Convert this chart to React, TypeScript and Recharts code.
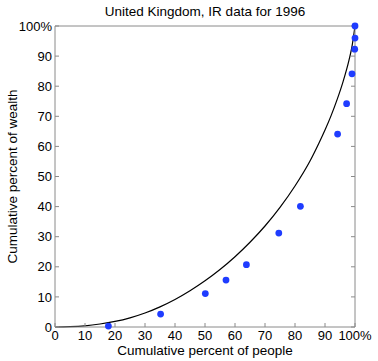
import { ComposedChart, Line, Scatter, XAxis, YAxis } from 'recharts';

// ============================================
// Data
// ============================================

// observed cumulative shares (percent of people, percent of wealth)
const peopleShare = [17.8, 35.2, 50.1, 57, 63.8, 74.6, 81.8, 94.2, 97.2, 99, 99.9, 100, 100];
const wealthShare = [0.3, 4.3, 11.1, 15.6, 20.7, 31.2, 40.1, 64.1, 74.2, 84.1, 92.3, 96, 100];

// fitted Lorenz curve
const curveX = [0, 5, 10, 15, 20, 25, 30, 35, 40, 45, 50, 55, 60, 65, 70, 75, 80, 85, 88, 90, 92, 94, 96, 98, 99, 100];
const curveY = [
  0, 0.1, 0.4, 1.0, 1.85, 3.05, 4.65, 6.7, 9.15, 12.05, 15.35, 19.1, 23.35, 28.15, 33.55, 39.75, 46.85, 55.15,
  61.15, 65.45, 70.15, 75.45, 81.45, 88.65, 93.25, 100,
];

const TICKS = [0, 10, 20, 30, 40, 50, 60, 70, 80, 90, 100];

const points = peopleShare.map((x, i) => ({ x, y: wealthShare[i] }));
const curve = curveX.map((x, i) => ({ x, y: curveY[i] }));

const AXIS_GRAY = '#8a8a8a';
const DOT_BLUE = '#1f3cff';
const FONT = '"Liberation Sans", Arial, Helvetica, sans-serif';

const pct = (v: number) => (v === 100 ? '100%' : String(v));
const blank = () => '';

const Dot = (props: any) => <circle cx={props.cx} cy={props.cy} r={3.4} fill={DOT_BLUE} />;

// ============================================
// Component
// ============================================

export default function App() {
  return (
    <div
      style={{
        position: 'absolute',
        left: 0,
        top: 0,
        width: 378,
        height: 361,
        background: '#fff',
        fontFamily: FONT,
      }}
    >
      <div
        style={{
          position: 'absolute',
          left: 55,
          top: 4,
          width: 300,
          textAlign: 'center',
          fontSize: 13.5,
          lineHeight: '15px',
          color: '#000',
        }}
      >
        United Kingdom, IR data for 1996
      </div>
      <ComposedChart width={378} height={361} margin={{ top: 0, right: 0, bottom: 0, left: 0 }}>
        <XAxis
          dataKey="x"
          type="number"
          domain={[0, 100]}
          ticks={TICKS}
          tickFormatter={pct}
          height={34}
          tickSize={-4}
          tickMargin={8}
          interval={0}
          axisLine={{ stroke: AXIS_GRAY }}
          tickLine={{ stroke: AXIS_GRAY }}
          tick={{ fill: '#000', fontSize: 13 }}
          label={{
            value: 'Cumulative percent of people',
            position: 'insideBottom',
            offset: 6,
            style: { fill: '#000', fontSize: 13.5 },
          }}
        />
        <XAxis
          xAxisId="top"
          orientation="top"
          type="number"
          domain={[0, 100]}
          allowDataOverflow
          ticks={TICKS}
          tickFormatter={blank}
          height={26}
          tickSize={-4}
          interval={0}
          axisLine={{ stroke: AXIS_GRAY }}
          tickLine={{ stroke: AXIS_GRAY }}
        />
        <YAxis
          type="number"
          domain={[0, 100]}
          ticks={TICKS}
          tickFormatter={pct}
          width={55}
          tickSize={-4}
          tickMargin={7}
          interval={0}
          axisLine={{ stroke: AXIS_GRAY }}
          tickLine={{ stroke: AXIS_GRAY }}
          tick={{ fill: '#000', fontSize: 13 }}
          label={{
            value: 'Cumulative percent of wealth',
            angle: -90,
            position: 'insideLeft',
            offset: 12,
            style: { fill: '#000', fontSize: 13.5, textAnchor: 'middle' },
          }}
        />
        <YAxis
          yAxisId="right"
          orientation="right"
          type="number"
          domain={[0, 100]}
          allowDataOverflow
          ticks={TICKS}
          tickFormatter={blank}
          width={23}
          tickSize={-4}
          interval={0}
          axisLine={{ stroke: AXIS_GRAY }}
          tickLine={{ stroke: AXIS_GRAY }}
        />
        <Line
          data={curve}
          dataKey="y"
          type="monotone"
          stroke="#000"
          strokeWidth={1.2}
          dot={false}
          activeDot={false}
          isAnimationActive={false}
        />
        <Scatter data={points} dataKey="y" fill={DOT_BLUE} shape={Dot} isAnimationActive={false} />
      </ComposedChart>
    </div>
  );
}
